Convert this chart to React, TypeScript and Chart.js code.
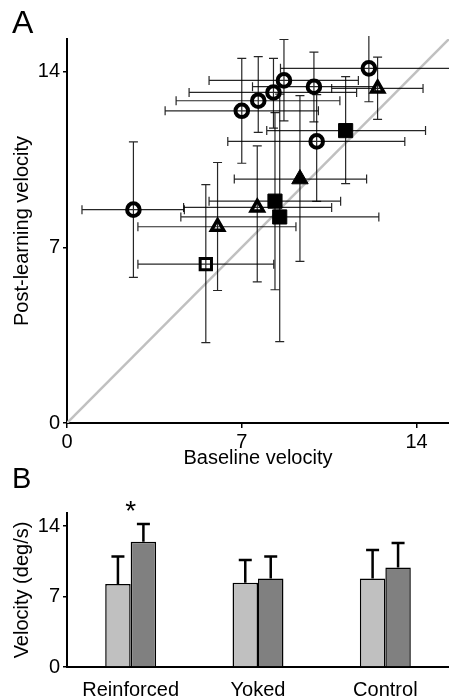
import React, { useEffect, useRef } from 'react';
import { Chart, registerables } from 'chart.js';
Chart.register(...registerables);

const FONT = "'Liberation Sans', Arial, Helvetica, sans-serif";

// ---------- Panel A data (baseline x vs post-learning y, with ranges) ----------
const AXIS_MAX = 15.3;
const TICKS = [0, 7, 14];

const openCircles = [
  { x: 12.09, y: 14.13, xLo: 8.55, xHi: 16.5, yLo: 12.8, yHi: 15.7 },
  { x: 8.69, y: 13.65, xLo: 5.69, xHi: 11.67, yLo: 12.04, yHi: 15.28 },
  { x: 9.89, y: 13.4, xLo: 7.43, xHi: 12.36, yLo: 12.0, yHi: 14.78 },
  { x: 8.27, y: 13.17, xLo: 4.89, xHi: 11.6, yLo: 11.75, yHi: 14.53 },
  { x: 7.66, y: 12.84, xLo: 4.37, xHi: 10.93, yLo: 11.58, yHi: 14.6 },
  { x: 7.0, y: 12.44, xLo: 3.93, xHi: 10.07, yLo: 10.35, yHi: 14.53 },
  { x: 10.0, y: 11.22, xLo: 6.44, xHi: 13.53, yLo: 8.83, yHi: 13.08 },
  { x: 2.66, y: 8.5, xLo: 0.6, xHi: 4.7, yLo: 5.8, yHi: 11.2 },
];
const openTriangles = [
  { x: 12.44, y: 13.33, xLo: 10.6, xHi: 14.26, yLo: 12.1, yHi: 14.58 },
  { x: 7.62, y: 8.59, xLo: 4.67, xHi: 10.6, yLo: 5.62, yHi: 11.04 },
  { x: 6.03, y: 7.82, xLo: 2.84, xHi: 9.17, yLo: 5.28, yHi: 10.38 },
];
const filledTriangles = [
  { x: 9.33, y: 9.72, xLo: 6.7, xHi: 12.0, yLo: 6.44, yHi: 13.04 },
];
const filledSquares = [
  { x: 11.16, y: 11.65, xLo: 8.0, xHi: 14.36, yLo: 9.54, yHi: 13.8 },
  { x: 8.33, y: 8.84, xLo: 5.69, xHi: 10.96, yLo: 5.31, yHi: 12.37 },
  { x: 8.52, y: 8.21, xLo: 4.56, xHi: 12.49, yLo: 3.24, yHi: 13.1 },
];
const openSquares = [
  { x: 5.56, y: 6.33, xLo: 2.84, xHi: 8.28, yLo: 3.2, yHi: 9.5 },
];
const identityLine = [
  { x: 0, y: 0 },
  { x: AXIS_MAX, y: AXIS_MAX },
];

// ---------- Panel B data ----------
const groups = ['Reinforced', 'Yoked', 'Control'];
const baselineMean = [8.24, 8.37, 8.8];
const baselineUpper = [10.98, 10.63, 11.62];
const postMean = [12.44, 8.8, 9.89];
const postUpper = [14.2, 10.98, 12.31];

const ALL_POINTS = [openCircles, openTriangles, filledTriangles, filledSquares, openSquares];

const tickFont = { size: 20, family: FONT };

const errorBarsA = {
  id: 'errorBarsA',
  afterDatasetDraw(chart: any, args: any) {
    if (args.index !== 0) return;
    const { ctx, chartArea: a } = chart;
    const xs = chart.scales.x;
    const ys = chart.scales.y;
    ctx.save();
    ctx.beginPath();
    ctx.rect(a.left, a.top - 3, a.right - a.left + 2, a.bottom - a.top + 3);
    ctx.clip();
    ctx.strokeStyle = 'rgba(0,0,0,0.85)';
    ctx.lineWidth = 1.2;
    const cap = 4.5;
    ALL_POINTS.forEach((grp) => {
      grp.forEach((p) => {
        const px = xs.getPixelForValue(p.x);
        const py = ys.getPixelForValue(p.y);
        const x1 = xs.getPixelForValue(p.xLo);
        const x2 = xs.getPixelForValue(p.xHi);
        const y1 = ys.getPixelForValue(p.yLo);
        const y2 = ys.getPixelForValue(p.yHi);
        ctx.beginPath();
        ctx.moveTo(x1, py); ctx.lineTo(x2, py);
        ctx.moveTo(x1, py - cap); ctx.lineTo(x1, py + cap);
        ctx.moveTo(x2, py - cap); ctx.lineTo(x2, py + cap);
        ctx.moveTo(px, y1); ctx.lineTo(px, y2);
        ctx.moveTo(px - cap, y1); ctx.lineTo(px + cap, y1);
        ctx.moveTo(px - cap, y2); ctx.lineTo(px + cap, y2);
        ctx.stroke();
      });
    });
    ctx.restore();
  },
  afterDraw(chart: any) {
    const { ctx } = chart;
    ctx.save();
    ctx.fillStyle = '#000';
    ctx.font = `32px ${FONT}`;
    ctx.textBaseline = 'alphabetic';
    ctx.textAlign = 'left';
    ctx.fillText('A', 12, 33);
    ctx.restore();
  },
};

const errorBarsB = {
  id: 'errorBarsB',
  afterDatasetsDraw(chart: any) {
    const { ctx } = chart;
    const ys = chart.scales.y;
    const uppers = [baselineUpper, postUpper];
    ctx.save();
    ctx.strokeStyle = '#000';
    ctx.lineWidth = 2.5;
    ctx.lineCap = 'butt';
    uppers.forEach((up, i) => {
      const meta = chart.getDatasetMeta(i);
      meta.data.forEach((bar: any, j: number) => {
        const top = ys.getPixelForValue(up[j]);
        ctx.beginPath();
        ctx.moveTo(bar.x, bar.y);
        ctx.lineTo(bar.x, top);
        ctx.moveTo(bar.x - 6.5, top);
        ctx.lineTo(bar.x + 6.5, top);
        ctx.stroke();
      });
    });
    ctx.restore();
  },
  afterDraw(chart: any) {
    const { ctx } = chart;
    const xs = chart.scales.x;
    ctx.save();
    ctx.fillStyle = '#000';
    ctx.textBaseline = 'alphabetic';
    ctx.textAlign = 'left';
    ctx.font = `29px ${FONT}`;
    ctx.fillText('B', 12, 28);
    ctx.textAlign = 'center';
    ctx.font = `28px ${FONT}`;
    ctx.fillText('*', xs.getPixelForValue(0), 60);
    ctx.restore();
  },
};

function ptsDataset(pts: any[], style: string, radius: number, bw: number, filled: boolean) {
  return {
    data: pts.map((p) => ({ x: p.x, y: p.y })),
    pointStyle: style,
    pointRadius: radius,
    pointHoverRadius: radius,
    pointBorderWidth: bw,
    pointBackgroundColor: filled ? '#000' : 'rgba(0,0,0,0)',
    pointBorderColor: '#000',
    showLine: false,
    order: 1,
  };
}

export default function App() {
  const refA = useRef<HTMLCanvasElement>(null);
  const refB = useRef<HTMLCanvasElement>(null);

  useEffect(() => {
    const chartA = new Chart(refA.current as HTMLCanvasElement, {
      type: 'scatter',
      data: {
        datasets: [
          {
            data: identityLine,
            showLine: true,
            borderColor: '#c0c0c0',
            borderWidth: 2.5,
            pointRadius: 0,
            order: 10,
          } as any,
          ptsDataset(openCircles, 'circle', 6.3, 4, false),
          ptsDataset(openTriangles, 'triangle', 7, 3.5, false),
          ptsDataset(filledTriangles, 'triangle', 9.5, 1, true),
          ptsDataset(filledSquares, 'rect', 10, 1, true),
          ptsDataset(openSquares, 'rect', 8, 3, false),
        ],
      },
      options: {
        animation: false,
        responsive: false,
        layout: { autoPadding: false, padding: { top: 39, left: 0, right: 0, bottom: 0 } },
        plugins: { legend: { display: false }, tooltip: { enabled: false } },
        scales: {
          x: {
            type: 'linear',
            min: 0,
            max: AXIS_MAX,
            afterBuildTicks: (s: any) => { s.ticks = TICKS.map((v) => ({ value: v })); },
            afterFit: (s: any) => { s.height = 52; },
            grid: { drawOnChartArea: false, drawTicks: true, tickLength: 5, color: '#000', lineWidth: 1.5 },
            border: { display: true, color: '#000', width: 2 },
            ticks: { font: tickFont, color: '#000', padding: 2, maxRotation: 0 },
            title: { display: true, text: 'Baseline velocity', font: tickFont, color: '#000', padding: { top: 0, bottom: 5 } },
          },
          y: {
            type: 'linear',
            min: 0,
            max: AXIS_MAX,
            afterBuildTicks: (s: any) => { s.ticks = TICKS.map((v) => ({ value: v })); },
            afterFit: (s: any) => { s.width = 67; },
            grid: { drawOnChartArea: false, drawTicks: true, tickLength: 4, color: '#000', lineWidth: 1.5 },
            border: { display: true, color: '#000', width: 2 },
            ticks: { font: tickFont, color: '#000', padding: 3 },
            title: { display: true, text: 'Post-learning velocity', font: tickFont, color: '#000', padding: { top: 10, bottom: 0 } },
          },
        },
      } as any,
      plugins: [errorBarsA],
    });

    const chartB = new Chart(refB.current as HTMLCanvasElement, {
      type: 'bar',
      data: {
        labels: groups,
        datasets: [
          { data: baselineMean, backgroundColor: '#c0c0c0', borderColor: '#000', borderWidth: 1.5 },
          { data: postMean, backgroundColor: '#808080', borderColor: '#000', borderWidth: 1.5 },
        ],
      },
      options: {
        animation: false,
        responsive: false,
        categoryPercentage: 0.4,
        barPercentage: 1.0,
        layout: { autoPadding: false, padding: { top: 53, left: 0, right: 0, bottom: 0 } },
        plugins: { legend: { display: false }, tooltip: { enabled: false } },
        scales: {
          x: {
            afterFit: (s: any) => { s.height = 33; },
            grid: { display: false, drawTicks: false },
            border: { display: true, color: '#000', width: 2 },
            ticks: { font: tickFont, color: '#000', padding: 11 },
          },
          y: {
            min: 0,
            max: AXIS_MAX,
            afterBuildTicks: (s: any) => { s.ticks = TICKS.map((v) => ({ value: v })); },
            afterFit: (s: any) => { s.width = 67; },
            grid: { drawOnChartArea: false, drawTicks: true, tickLength: 4, color: '#000', lineWidth: 1.5 },
            border: { display: true, color: '#000', width: 2 },
            ticks: { font: tickFont, color: '#000', padding: 3 },
            title: { display: true, text: 'Velocity (deg/s)', font: tickFont, color: '#000', padding: { top: 10, bottom: 0 } },
          },
        },
      } as any,
      plugins: [errorBarsB],
    });

    return () => {
      chartA.destroy();
      chartB.destroy();
    };
  }, []);

  return (
    <div style={{ position: 'absolute', left: 0, top: 0, width: 449, height: 700, background: '#fff', overflow: 'hidden' }}>
      <canvas ref={refA} width={449} height={475} style={{ position: 'absolute', left: 0, top: 0, width: 449, height: 475 }} />
      <canvas ref={refB} width={449} height={240} style={{ position: 'absolute', left: 0, top: 460, width: 449, height: 240 }} />
    </div>
  );
}
